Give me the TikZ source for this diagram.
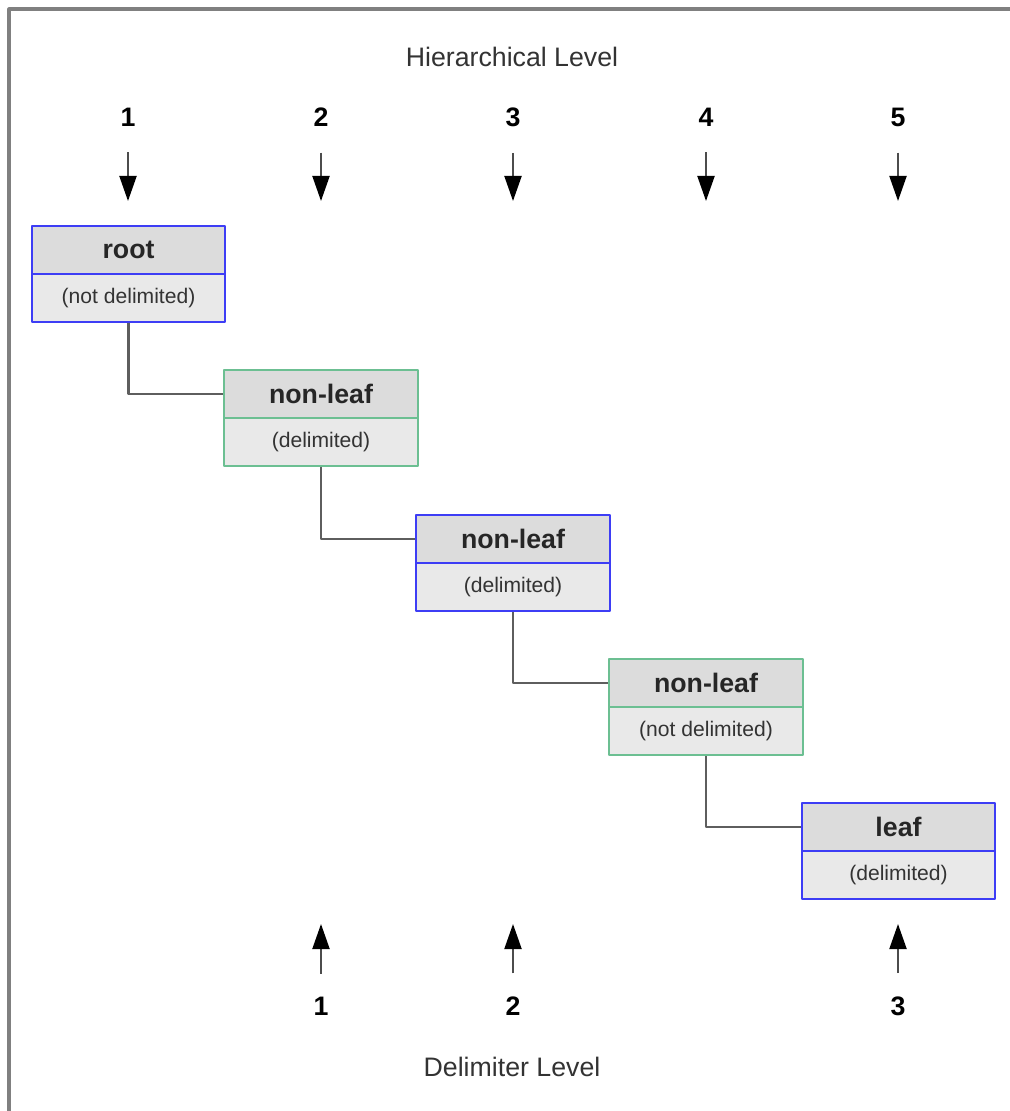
\documentclass[tikz,border=0pt]{standalone}
\usepackage{fontspec}
\setmainfont{Liberation Sans}
\usetikzlibrary{arrows.meta}
\definecolor{boxblue}{HTML}{3D3DF5}
\definecolor{boxgreen}{HTML}{6CBF92}
\definecolor{headgray}{HTML}{DCDCDC}
\definecolor{bodygray}{HTML}{E9E9E9}
\definecolor{linkgray}{HTML}{5E5E5E}
\definecolor{textgray}{HTML}{333333}
\newcommand{\lvlfont}{\fontsize{19}{22}\selectfont}
\newcommand{\subfont}{\fontsize{15}{18}\selectfont}
\begin{document}
\begin{tikzpicture}[x=0.025cm,y=-0.025cm,line join=round,
	head/.style={draw,fill=headgray,line width=1.4pt,minimum width=4.825cm,minimum height=1.2cm,inner sep=0pt,font=\lvlfont\bfseries,text=black!85},
	body/.style={draw,fill=bodygray,line width=1.4pt,minimum width=4.825cm,minimum height=1.2cm,inner sep=0pt,font=\subfont,text=textgray},
	num/.style={inner sep=0pt,font=\lvlfont\bfseries},
	title/.style={inner sep=0pt,font=\lvlfont,text=textgray},
	link/.style={draw=linkgray,line width=1.6pt},
	lvl/.style={-{Triangle[length=0.625cm,width=0.425cm,color=black]},line width=1.4pt,draw=black!70}]
		\useasboundingbox (0,0) rectangle (1010,1111);
		\draw[gray,line width=2.2pt] (9,1111) -- (9,9) -- (1010,9);
		% hierarchical level
		\node[title] (hier) at (512,57) {Hierarchical Level};
		\node[num] (n1) at (128,117) {1};
		\node[num] (n2) at (321,117) {2};
		\node[num] (n3) at (513,117) {3};
		\node[num] (n4) at (706,117) {4};
		\node[num] (n5) at (898,117) {5};
		\coordinate (t1) at (128,201);
		\coordinate (t2) at (321,201);
		\coordinate (t3) at (513,201);
		\coordinate (t4) at (706,201);
		\coordinate (t5) at (898,201);
		\draw[lvl,shorten <=0.65cm] (n1) -- (t1);
		\draw[lvl,shorten <=0.65cm] (n2) -- (t2);
		\draw[lvl,shorten <=0.65cm] (n3) -- (t3);
		\draw[lvl,shorten <=0.65cm] (n4) -- (t4);
		\draw[lvl,shorten <=0.65cm] (n5) -- (t5);
		% tree
		\node[head,draw=boxblue] (h1) at (128.5,250) {root};
		\node[body,draw=boxblue] (b1) at (128.5,298) {(not delimited)};
		\node[head,draw=boxgreen] (h2) at (321,394) {non-leaf};
		\node[body,draw=boxgreen] (b2) at (321,442) {(delimited)};
		\node[head,draw=boxblue] (h3) at (513,539) {non-leaf};
		\node[body,draw=boxblue] (b3) at (513,587) {(delimited)};
		\node[head,draw=boxgreen] (h4) at (706,683) {non-leaf};
		\node[body,draw=boxgreen] (b4) at (706,731) {(not delimited)};
		\node[head,draw=boxblue] (h5) at (898.5,827) {leaf};
		\node[body,draw=boxblue] (b5) at (898.5,875) {(delimited)};
		\draw[link] (b1) |- (h2);
		\draw[link] (b2) |- (h3);
		\draw[link] (b3) |- (h4);
		\draw[link] (b4) |- (h5);
		% delimiter level
		\node[num] (d1) at (321,1006) {1};
		\node[num] (d2) at (513,1006) {2};
		\node[num] (d3) at (898,1006) {3};
		\coordinate (u1) at (321,924);
		\coordinate (u2) at (513,924);
		\coordinate (u3) at (898,924);
		\draw[lvl,shorten <=0.575cm] (d1) -- (u1);
		\draw[lvl,shorten <=0.575cm] (d2) -- (u2);
		\draw[lvl,shorten <=0.575cm] (d3) -- (u3);
		\node[title] (delim) at (512,1067) {Delimiter Level};
\end{tikzpicture}
\end{document}
